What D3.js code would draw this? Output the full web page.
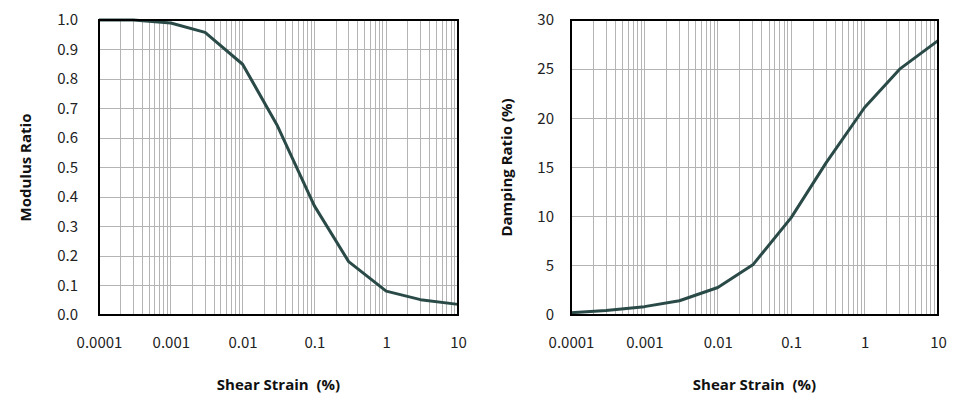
<!DOCTYPE html>
<html><head><meta charset="utf-8">
<script src="https://cdn.jsdelivr.net/npm/d3@7"></script>
<style>
body{margin:0;background:#fff;}
svg{display:block;}
.tick text{font-family:"Noto Sans CJK KR","Open Sans",sans-serif;font-size:15px;fill:#222;}
.title{font-family:"Open Sans",sans-serif;font-size:15px;font-weight:bold;fill:#111;}
</style></head><body>
<svg id="c" width="962" height="414"></svg>
<script>
const strain = [0.0001, 0.0003, 0.001, 0.003, 0.01, 0.03, 0.1, 0.3, 1, 3, 10];
const modulusRatio = [1.0, 1.0, 0.99, 0.958, 0.85, 0.645, 0.37, 0.181, 0.081, 0.052, 0.036];
const dampingRatio = [0.22, 0.45, 0.85, 1.45, 2.8, 5.1, 9.9, 15.5, 21.1, 25.0, 27.9];
const xTicks = [0.0001, 0.001, 0.01, 0.1, 1, 10];
const xTickLabels = ["0.0001", "0.001", "0.01", "0.1", "1", "10"];
const modulusTicks = [0, 0.1, 0.2, 0.3, 0.4, 0.5, 0.6, 0.7, 0.8, 0.9, 1.0];
const dampingTicks = [0, 5, 10, 15, 20, 25, 30];

const svg = d3.select("#c");

function panel(cfg){
  const g = svg.append("g");
  const x = d3.scaleLog().domain([0.0001, 10]).range([cfg.x0, cfg.x1]);
  const y = d3.scaleLinear().domain(cfg.yDomain).range([cfg.y1, cfg.y0]);
  const minor = [];
  for (let e = -4; e < 1; e++) for (let m = 1; m <= 9; m++) minor.push(m * Math.pow(10, e));
  minor.push(10);
  g.append("g").selectAll("line").data(minor).join("line")
    .attr("x1", d => x(d)).attr("x2", d => x(d))
    .attr("y1", cfg.y0).attr("y2", cfg.y1)
    .attr("stroke", "#b4b4b4").attr("stroke-width", 1).attr("shape-rendering", "crispEdges");
  g.append("g").selectAll("line").data(cfg.yTicks).join("line")
    .attr("x1", cfg.x0).attr("x2", cfg.x1)
    .attr("y1", d => y(d)).attr("y2", d => y(d))
    .attr("stroke", "#b4b4b4").attr("stroke-width", 1).attr("shape-rendering", "crispEdges");
  const ya = g.append("g").attr("transform", `translate(${cfg.x0},0)`)
    .call(d3.axisLeft(y).tickValues(cfg.yTicks).tickFormat(cfg.yFmt).tickSize(0).tickPadding(cfg.yPad));
  ya.select(".domain").remove();
  const xa = g.append("g").attr("transform", `translate(0,${cfg.y1})`)
    .call(d3.axisBottom(x).tickValues(xTicks).tickFormat((d, i) => xTickLabels[i]).tickSize(0).tickPadding(22));
  xa.select(".domain").remove();
  g.append("path").datum(strain.map((s, i) => [s, cfg.values[i]]))
    .attr("fill", "none").attr("stroke", "#2a4a48").attr("stroke-width", 3)
    .attr("stroke-linejoin", "round")
    .attr("d", d3.line().x(d => x(d[0])).y(d => y(d[1])));
  g.append("rect").attr("x", cfg.x0).attr("y", cfg.y0)
    .attr("width", cfg.x1 - cfg.x0).attr("height", cfg.y1 - cfg.y0)
    .attr("fill", "none").attr("stroke", "#000").attr("stroke-width", 2);
  g.append("text").attr("class", "title").attr("text-anchor", "middle")
    .attr("x", (cfg.x0 + cfg.x1) / 2).attr("y", 390).text("Shear Strain  (%)")
    .attr("style", "white-space:pre");
  g.append("text").attr("class", "title").attr("text-anchor", "middle")
    .attr("transform", `translate(${cfg.yTitleX},${(cfg.y0 + cfg.y1) / 2}) rotate(-90)`)
    .text(cfg.yTitle);
}

panel({x0: 99, x1: 458, y0: 20, y1: 315, yDomain: [0, 1], yTicks: modulusTicks,
  yFmt: d3.format(".1f"), yPad: 21, values: modulusRatio, yTitle: "Modulus Ratio", yTitleX: 31});
panel({x0: 571, x1: 938, y0: 20, y1: 315, yDomain: [0, 30], yTicks: dampingTicks,
  yFmt: d3.format("d"), yPad: 17, values: dampingRatio, yTitle: "Damping Ratio (%)", yTitleX: 512});
</script>
</body></html>
